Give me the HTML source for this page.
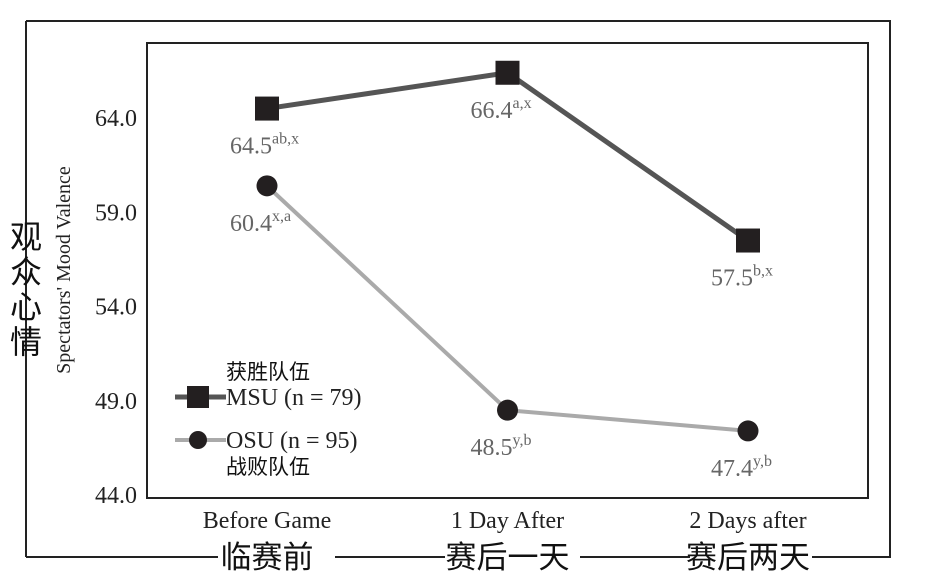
<!DOCTYPE html>
<html><head><meta charset="utf-8"><style>
body{margin:0;background:#fff;}
svg text{font-family:"Liberation Serif","Noto Serif CJK SC",serif;}
.cjk{font-family:"Noto Sans CJK SC","WenQuanYi Zen Hei",sans-serif!important;}
</style></head><body>
<svg id="c" width="927" height="582" viewBox="0 0 927 582" xmlns="http://www.w3.org/2000/svg">
<path d="M26,21 H890 V557 H812 M690,557 H580 M445,557 H335 M218,557 H26 Z" fill="none" stroke="#222" stroke-width="2"/>
<line x1="26" y1="21" x2="26" y2="557" stroke="#222" stroke-width="2"/>
<rect x="147" y="43" width="721" height="455" fill="none" stroke="#222" stroke-width="2"/>
<g id="yticks"></g>
<g id="xlabels"></g>
<text transform="translate(70,270) rotate(-90)" text-anchor="middle" font-size="20" fill="#222">Spectators' Mood Valence</text>
<text class="cjk" font-size="32" fill="#111"><tspan x="10" y="248">观</tspan><tspan x="10" y="283">众</tspan><tspan x="10" y="318">心</tspan><tspan x="10" y="353">情</tspan></text>
<g id="series"></g>
<g>
<text class="cjk" x="226" y="379" font-size="21" fill="#111">获胜队伍</text>
<line x1="175" y1="397" x2="226" y2="397" stroke="#555" stroke-width="5"/>
<rect x="187" y="386" width="22" height="22" fill="#231f20"/>
<text x="226" y="405" font-size="24" fill="#222">MSU (n = 79)</text>
<line x1="175" y1="440" x2="226" y2="440" stroke="#aaa" stroke-width="4"/>
<circle cx="198" cy="440" r="9" fill="#231f20"/>
<text x="226" y="448" font-size="24" fill="#222">OSU (n = 95)</text>
<text class="cjk" x="226" y="474" font-size="21" fill="#111">战败队伍</text>
</g>
</svg>
<script>
const categories=["Before Game","1 Day After","2 Days after"];
const categoriesCn=["临赛前","赛后一天","赛后两天"];
const yTicks=[44.0,49.0,54.0,59.0,64.0];
const msuValues=[64.5,66.4,57.5];
const osuValues=[60.4,48.5,47.4];
const msuSup=["ab,x","a,x","b,x"];
const osuSup=["x,a","y,b","y,b"];
const NS="http://www.w3.org/2000/svg";
function y(v){return 118+(64-v)*18.85;}
function x(i){return 267+i*240.5;}
function mk(t,a,p){const e=document.createElementNS(NS,t);for(const k in a)e.setAttribute(k,a[k]);(p||document.getElementById('c')).appendChild(e);return e;}
const yt=document.getElementById('yticks');
yTicks.forEach(v=>{const t=mk('text',{x:137,y:y(v)+8,'text-anchor':'end','font-size':24,fill:'#222'},yt);t.textContent=v.toFixed(1);

});
const xl=document.getElementById('xlabels');
categories.forEach((c,i)=>{const t=mk('text',{x:x(i),y:528,'text-anchor':'middle','font-size':24,fill:'#222'},xl);t.textContent=c;


const u=mk('text',{x:x(i),y:568,'text-anchor':'middle','font-size':31,fill:'#111',class:'cjk'},xl);u.textContent=categoriesCn[i];

});
const s=document.getElementById('series');
function line(vals,col,w,name){const l=mk('polyline',{points:vals.map((v,i)=>x(i)+','+y(v)).join(' '),fill:'none',stroke:col,'stroke-width':w},s);

}
line(osuValues,'#aaa',4,'osu-line');
line(msuValues,'#555',5,'msu-line');
msuValues.forEach((v,i)=>{const r=mk('rect',{x:x(i)-12,y:y(v)-12,width:24,height:24,fill:'#231f20'},s);


const t=mk('text',{x:x(i)-37,y:y(v)+45,'font-size':24,fill:'#666'},s);


t.innerHTML=v.toFixed(1)+'<tspan font-size="16" dy="-10">'+msuSup[i]+'</tspan>';});
osuValues.forEach((v,i)=>{const c=mk('circle',{cx:x(i),cy:y(v),r:10.5,fill:'#231f20'},s);


const t=mk('text',{x:x(i)-37,y:y(v)+45,'font-size':24,fill:'#666'},s);


t.innerHTML=v.toFixed(1)+'<tspan font-size="16" dy="-10">'+osuSup[i]+'</tspan>';});
</script>
</body></html>
